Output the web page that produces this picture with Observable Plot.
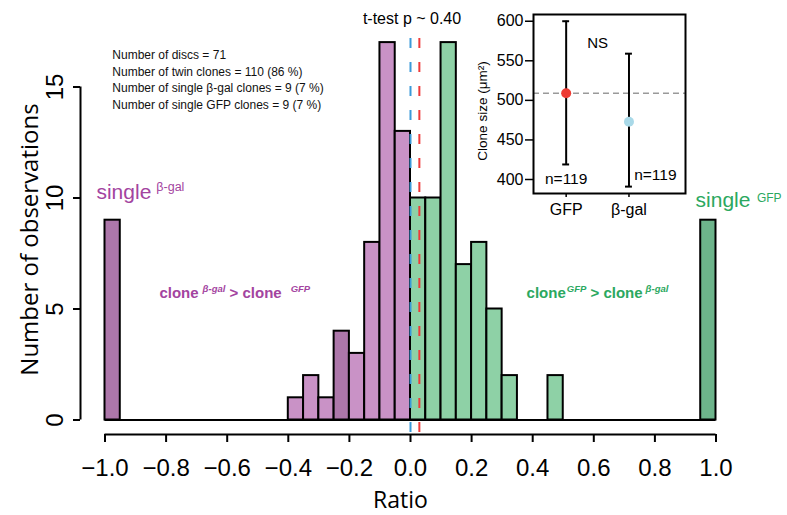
<!DOCTYPE html>
<html>
<head>
<meta charset="utf-8">
<script src="https://cdn.jsdelivr.net/npm/d3@7"></script>
<script src="https://cdn.jsdelivr.net/npm/@observablehq/plot@0.6"></script>
<style>
  html, body { margin: 0; padding: 0; background: white; }
  #chart { position: relative; width: 787px; height: 515px; overflow: hidden; }
  #chart svg { position: absolute; }
</style>
</head>
<body>
<div id="chart"></div>
<script>
// ---------- data: histogram of clone size ratio ----------
const binLeft  = [-1.00, -0.40, -0.35, -0.30, -0.25, -0.20, -0.15, -0.10, -0.05, 0.00, 0.05, 0.10, 0.15, 0.20, 0.25, 0.30, 0.45, 0.95];
const binCount = [9, 1, 2, 1, 4, 3, 8, 17, 13, 10, 10, 17, 7, 8, 5, 2, 2, 9];
const binShade = ["singleBgal", "bgal", "bgal", "bgal", "bgalDark", "bgal", "bgal", "bgal", "bgal",
                  "gfp", "gfp", "gfp", "gfp", "gfp", "gfp", "gfp", "gfp", "singleGfp"];
const binWidth = 0.05;
const shadeColor = { singleBgal: "#ad77aa", bgalDark: "#ad77aa", bgal: "#c992c6", gfp: "#8ed1a6", singleGfp: "#6db48b" };

const xTicks = [-1.0, -0.8, -0.6, -0.4, -0.2, 0.0, 0.2, 0.4, 0.6, 0.8, 1.0];
const yTicks = [0, 5, 10, 15];
const xTitle = "Ratio";
const yTitle = "Number of observations";
const testTitle = "t-test p ~ 0.40";
const meanLines = [0.0, 0.029];           // blue (β-gal), red (GFP)
const meanColors = ["#3a9ad9", "#ee3a3a"];
const infoLines = [
  "Number of discs = 71",
  "Number of twin clones = 110 (86 %)",
  "Number of single β-gal clones = 9 (7 %)",
  "Number of single GFP clones = 9 (7 %)"
];
const purple = "#a3449f";
const green = "#2ba860";
const labelSingleBgal = [{t: "single"}, {t: "β-gal", sup: 8, size: 12.5, dx: 5}];
const labelSingleGfp  = [{t: "single"}, {t: "GFP", sup: 5, size: 12, dx: 6.5}];
const labelBgalGt = [{t: "clone"}, {t: "β-gal", sup: 6, size: 9.5, italic: true, dx: 4},
                     {t: " > clone"}, {t: "GFP", sup: 6, size: 9.5, italic: true, dx: 9}];
const labelGfpGt  = [{t: "clone"}, {t: "GFP", sup: 6, size: 9.5, italic: true, dx: 1},
                     {t: " > clone"}, {t: "β-gal", sup: 6, size: 9.5, italic: true, dx: 3}];

// ---------- data: inset (clone size) ----------
const insetGroups = ["GFP", "β-gal"];
const insetMean = [509, 473];
const insetLow  = [419, 391];
const insetHigh = [600, 559];
const insetColors = ["#ee3b33", "#a9d9e8"];
const insetRef = 509;
const insetYTicks = [400, 450, 500, 550, 600];
const insetNLabels = ["n=119", "n=119"];
const insetNX = [1, 2.42];
const insetNY = [401, 406];
const insetYTitle = "Clone size (μm²)";
const insetNote = "NS";

// ---------- build tables ----------
const bins = binLeft.map((x, i) => ({x1: x, x2: x + binWidth, n: binCount[i], shade: binShade[i]}));
const inset = insetGroups.map((g, i) => ({g, x: i + 1, mean: insetMean[i], lo: insetLow[i], hi: insetHigh[i], color: insetColors[i]}));
const joinParts = parts => parts.map(p => p.t).join("");

const FONT = "'Liberation Sans', Arial, Helvetica, sans-serif";
const TITLEFONT = "'Open Sans', 'Liberation Sans', sans-serif";

const main = Plot.plot({
  width: 787, height: 515,
  marginLeft: 80, marginRight: 67, marginTop: 44, marginBottom: 81,
  style: {fontFamily: FONT, background: "white", color: "black"},
  x: {domain: [-1, 1], range: [104.5, 715.5]},
  y: {domain: [0, 15], range: [419.5, 86.5]},
  marks: [
    Plot.ruleY([0], {x1: -1, x2: 1, stroke: "black", strokeWidth: 2}),
    Plot.rect(bins, {x1: "x1", x2: "x2", y1: 0, y2: "n", fill: d => shadeColor[d.shade], stroke: "black", strokeWidth: 2}),
    Plot.ruleX(meanLines, {x: d => d, stroke: (d, i) => meanColors[i], strokeWidth: 2, strokeDasharray: "10,14", insetTop: -6}),
    // x axis
    Plot.ruleY([0], {x1: -1, x2: 1, dy: 14.5, stroke: "black", strokeWidth: 2}),
    Plot.axisX({ticks: xTicks, tickFormat: d3.format(".1f"), tickSize: 8, tickPadding: 16, fontSize: 24, strokeWidth: 2, label: null}),
    Plot.text([xTitle], {frameAnchor: "bottom", lineAnchor: "middle", textAnchor: "middle", dy: 66, fontSize: 23, fontFamily: TITLEFONT}),
    // y axis
    Plot.ruleX([-1], {y1: 0, y2: 15, dx: -24.5, stroke: "black", strokeWidth: 2}),
    Plot.axisY({ticks: yTicks, tickSize: 7, tickFormat: () => "", strokeWidth: 2, label: null}),
    Plot.text(yTicks, {y: d => d, frameAnchor: "left", textAnchor: "middle", lineAnchor: "middle", dx: -25, rotate: -90, fontSize: 24, text: d => String(d)}),
    Plot.text([yTitle], {frameAnchor: "left", textAnchor: "middle", lineAnchor: "middle", dx: -50, rotate: -90, fontSize: 24, fontFamily: TITLEFONT}),
    // annotations
    Plot.text([testTitle], {x: 0.005, frameAnchor: "top", lineAnchor: "middle", dy: -26, fontSize: 16}),
    Plot.text(infoLines, {x: -0.976, y: (d, i) => 16.42 - 0.745 * i, textAnchor: "start", fontSize: 12, fill: "#111"}),
    Plot.text([joinParts(labelSingleBgal)], {x: -1.028, y: 10.28, textAnchor: "start", fontSize: 21, fill: purple}),
    Plot.text([joinParts(labelSingleGfp)], {x: 0.933, y: 9.89, textAnchor: "start", fontSize: 21, fill: green}),
    Plot.text([joinParts(labelBgalGt)], {x: -0.822, y: 5.72, textAnchor: "start", fontSize: 15, fontWeight: "bold", fill: purple}),
    Plot.text([joinParts(labelGfpGt)], {x: 0.380, y: 5.72, textAnchor: "start", fontSize: 15, fontWeight: "bold", fill: green})
  ]
});

function richify(svg, parts) {
  const full = joinParts(parts);
  d3.select(svg).selectAll("text").filter(function() { return this.textContent === full; }).each(function() {
    const t = d3.select(this);
    t.text(null);
    let shift = 0;
    parts.forEach(p => {
      const ts = t.append("tspan").text(p.t);
      const target = p.sup ? -p.sup : 0;
      if (target - shift !== 0) ts.attr("dy", target - shift);
      shift = target;
      if (p.size) ts.attr("font-size", p.size);
      if (p.italic) ts.attr("font-style", "italic");
      if (p.dx) ts.attr("dx", p.dx);
    });
  });
}
[labelSingleBgal, labelSingleGfp, labelBgalGt, labelGfpGt].forEach(p => richify(main, p));

const insetPlot = Plot.plot({
  width: 260, height: 230,
  marginLeft: 93, marginRight: 15, marginTop: 14, marginBottom: 37,
  style: {fontFamily: FONT, background: "transparent", color: "black"},
  x: {domain: [0.48, 2.9]},
  y: {domain: [382.3, 608.5]},
  marks: [
    Plot.ruleY([insetRef], {stroke: "#9a9a9a", strokeWidth: 1.5, strokeDasharray: "6,4"}),
    Plot.ruleX(inset, {x: "x", y1: "lo", y2: "hi", stroke: "black", strokeWidth: 2}),
    Plot.ruleY(inset, {y: "hi", x1: d => d.x - 0.055, x2: d => d.x + 0.055, stroke: "black", strokeWidth: 2}),
    Plot.ruleY(inset, {y: "lo", x1: d => d.x - 0.055, x2: d => d.x + 0.055, stroke: "black", strokeWidth: 2}),
    Plot.dot(inset, {x: "x", y: "mean", r: 5, fill: "color", stroke: null}),
    Plot.text([insetNote], {x: 1.5, y: 572, fontSize: 15}),
    Plot.text(insetNLabels, {x: (d, i) => insetNX[i], y: (d, i) => insetNY[i], fontSize: 15.5}),
    Plot.frame({stroke: "black", strokeWidth: 2}),
    Plot.axisY({ticks: insetYTicks, tickSize: 8, tickPadding: 2, fontSize: 16, strokeWidth: 1.5, label: null}),
    Plot.axisX({ticks: [1, 2], tickFormat: d => insetGroups[d - 1], tickSize: 4, tickPadding: 6, fontSize: 16, strokeWidth: 1.5, label: null}),
    Plot.text([insetYTitle], {frameAnchor: "left", textAnchor: "middle", lineAnchor: "middle", dx: -51, dy: 7, rotate: -90, fontSize: 13.5})
  ]
});

const chart = document.getElementById("chart");
main.style.left = "0px"; main.style.top = "0px";
insetPlot.style.left = "440px"; insetPlot.style.top = "0px";
chart.appendChild(main);
chart.appendChild(insetPlot);
</script>
</body>
</html>
